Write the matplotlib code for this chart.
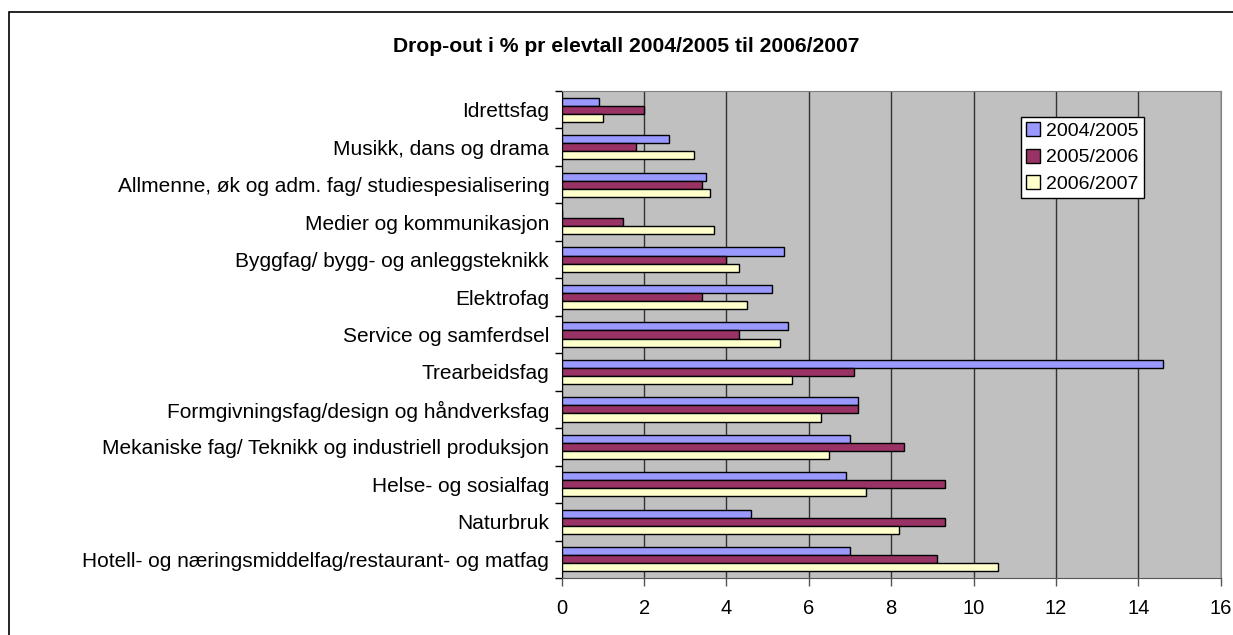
import matplotlib.pyplot as plt
import numpy as np
from matplotlib.patches import Rectangle

plt.rcParams["font.family"] = ["Liberation Sans", "DejaVu Sans"]

# Data (top to bottom)
categories = [
    "Idrettsfag",
    "Musikk, dans og drama",
    "Allmenne, øk og adm. fag/ studiespesialisering",
    "Medier og kommunikasjon",
    "Byggfag/ bygg- og anleggsteknikk",
    "Elektrofag",
    "Service og samferdsel",
    "Trearbeidsfag",
    "Formgivningsfag/design og håndverksfag",
    "Mekaniske fag/ Teknikk og industriell produksjon",
    "Helse- og sosialfag",
    "Naturbruk",
    "Hotell- og næringsmiddelfag/restaurant- og matfag",
]
y2004 = [0.9, 2.6, 3.5, 0.0, 5.4, 5.1, 5.5, 14.6, 7.2, 7.0, 6.9, 4.6, 7.0]
y2005 = [2.0, 1.8, 3.4, 1.5, 4.0, 3.4, 4.3, 7.1, 7.2, 8.3, 9.3, 9.3, 9.1]
y2006 = [1.0, 3.2, 3.6, 3.7, 4.3, 4.5, 5.3, 5.6, 6.3, 6.5, 7.4, 8.2, 10.6]
series_labels = ["2004/2005", "2005/2006", "2006/2007"]
colors = ["#9999FF", "#993366", "#FFFFCC"]

fig = plt.figure(figsize=(12.33, 6.35), dpi=100)
ax = fig.add_axes([561.7 / 1233, 1 - 578 / 635, (1220.7 - 561.7) / 1233, (578 - 91) / 635])

# outer chart frame
fig.patches.append(Rectangle((8.5 / 1233, -0.1), 1.1, 1.1 - 12.5 / 635,
                             transform=fig.transFigure, fill=False,
                             edgecolor="black", linewidth=1.2))

pos = np.arange(len(categories))
h = 0.215
for i, (vals, lab, col) in enumerate(zip([y2004, y2005, y2006], series_labels, colors)):
    ax.barh(pos + (i - 1) * h, vals, height=h, color=col, edgecolor="black",
            linewidth=1.0, label=lab, zorder=3)

ax.set_facecolor("#C0C0C0")
ax.set_xlim(0, 16)
ax.set_ylim(len(categories) - 0.5, -0.5)
ax.set_xticks(range(0, 17, 2))
ax.set_yticks(pos)
ax.set_yticklabels(categories, fontsize=15)
ax.set_yticks(np.arange(-0.5, len(categories), 1), minor=True)
ax.tick_params(axis="y", which="major", length=0, pad=9)
ax.tick_params(axis="y", which="minor", length=5, width=1, direction="out", color="black")
ax.tick_params(axis="x", length=6, width=1, direction="out", color="#555555",
               labelsize=14.5, pad=9)
ax.grid(axis="x", color="#333333", linewidth=1.0, zorder=0)
ax.set_axisbelow(True)

for side in ["top", "right"]:
    ax.spines[side].set_color("#808080")
ax.spines["bottom"].set_color("#555555")
ax.spines["left"].set_color("black")

fig.text(626 / 1233, 1 - 46 / 635, "Drop-out i % pr elevtall 2004/2005 til 2006/2007",
         ha="center", va="center", fontsize=15.2, fontweight="bold")

leg = ax.legend(loc="upper left", bbox_to_anchor=(1021 / 1233, 1 - 117 / 635),
                bbox_transform=fig.transFigure, fontsize=14, fancybox=False,
                framealpha=1, edgecolor="black", borderpad=0.25, labelspacing=0.45,
                handlelength=0.75, handleheight=0.75, handletextpad=0.3, borderaxespad=0)
leg.get_frame().set_linewidth(1.0)

fig.savefig("out.png", dpi=100)
